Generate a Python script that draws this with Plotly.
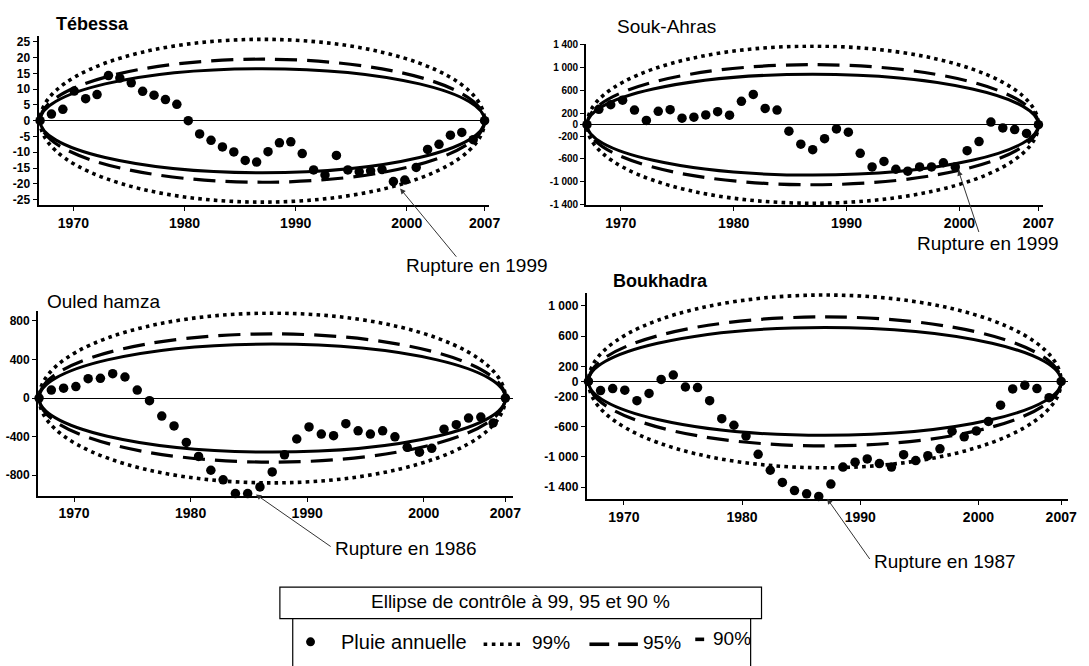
import numpy as np
import plotly.graph_objects as go

W, H = 1089, 666

# ---------------- data ----------------
YEAR_START, YEAR_END = 1967, 2007
X_TICKS = [1970, 1980, 1990, 2000, 2007]

STATIONS = ["Tébessa", "Souk-Ahras", "Ouled hamza", "Boukhadra"]

# cumulative deviations (Buishand), first and last point = 0
tebessa = [0, 2.1, 3.6, 9.4, 7.0, 8.3, 14.3, 13.5, 12.0, 9.3, 8.1, 6.7, 5.2, 0.0,
           -4.2, -6.2, -8.3, -9.9, -12.6, -13.1, -9.8, -7.0, -6.7, -10.4, -15.6,
           -17.2, -11.0, -15.6, -16.2, -15.9, -15.5, -19.3, -18.8, -14.8, -9.1,
           -7.5, -4.6, -3.7, -6.0, 0]
souk_ahras = [0, 270, 350, 430, 257, 74, 234, 263, 114, 131, 171, 229, 166, 411,
              531, 286, 257, -114, -343, -440, -246, -74, -131, -503, -743, -646,
              -783, -817, -743, -743, -669, -743, -457, -297, 46, -57, -86, -154, 0]
ouled_hamza = [0, 82, 102, 119, 201, 204, 252, 218, 82, -27, -187, -289, -460,
               -606, -749, -848, -991, -991, -922, -766, -589, -425, -300, -374,
               -391, -266, -340, -374, -340, -402, -511, -562, -521, -323, -276,
               -208, -197, -259, 0]
boukhadra = [0, -121, -95, -117, -256, -160, 26, 85, -74, -82, -256, -494, -581,
             -725, -966, -1178, -1339, -1447, -1490, -1525, -1361, -1136, -1071,
             -1028, -1089, -1136, -972, -1050, -985, -894, -661, -734, -657, -531,
             -315, -99, -52, -95, -216, 0]

# control ellipse half-heights: 99 %, 95 %, 90 %
ellipse_tebessa = [25.8, 19.5, 16.5]
ellipse_souk_ahras = [1380, 1055, 885]
ellipse_ouled_hamza = [880, 665, 560]
ellipse_boukhadra = [1145, 855, 715]

yticks_tebessa = [-25, -20, -15, -10, -5, 0, 5, 10, 15, 20, 25]
yticks_souk_ahras = [-1400, -1000, -600, -200, 0, 200, 600, 1000, 1400]
yticks_ouled_hamza = [-800, -400, 0, 400, 800]
yticks_boukhadra = [-1400, -1000, -600, -200, 0, 200, 600, 1000]

RUPTURE_TEXT = ["Rupture en 1999", "Rupture en 1999", "Rupture en 1986", "Rupture en 1987"]
RUPTURE_YEAR = [1999.4, 1999.9, 1985.6, 1987.2]
RUPTURE_VAL = [-21.5, -800, -1000, -1555]

LEGEND_TITLE = "Ellipse de contrôle à 99, 95 et 90 %"
LEGEND_ITEMS = ["Pluie annuelle", "99%", "95%", "90%"]

# ---------------- layout (pixels) ----------------
FONT = "Liberation Sans, Arial, sans-serif"
panels = [
    dict(vals=tebessa, ell=ellipse_tebessa, yt=yticks_tebessa, yr=[-26.7, 27.0], yfs=12,
         left=39, v0=40.5, v1=490, right=494, top=31, bottom=203,
         title=(55, 19, True), rt=(408, 264), tail=(462, 256)),
    dict(vals=souk_ahras, ell=ellipse_souk_ahras, yt=yticks_souk_ahras, yr=[-1410, 1410], yfs=10,
         left=592.7, v0=593.5, v1=1050, right=1055, top=40, bottom=203,
         title=(621.7, 21.5, False), rt=(925, 242), tail=(990, 231)),
    dict(vals=ouled_hamza, ell=ellipse_ouled_hamza, yt=yticks_ouled_hamza, yr=[-1011, 899], yfs=12,
         left=38.5, v0=39.5, v1=511, right=519, top=311, bottom=498,
         title=(45, 301.5, False), rt=(337, 552), tail=(335, 550)),
    dict(vals=boukhadra, ell=ellipse_boukhadra, yt=yticks_boukhadra, yr=[-1565, 1177], yfs=12,
         left=593.3, v0=595, v1=1073, right=1080, top=292, bottom=502,
         title=(618.3, 280.5, True), rt=(882, 565), tail=(880, 563)),
]

styles = [dict(width=3.6, dash="3.6px,4.2px"),  # 99 %
          dict(width=3.2, dash="22px,10px"),     # 95 %
          dict(width=3, dash="solid")]           # 90 %

def px(x):
    return x / W

def py(y):
    return 1 - y / H

fig = go.Figure()
layout = {}
annotations = []
shapes = []

for i, p in enumerate(panels):
    sfx = "" if i == 0 else str(i + 1)
    xr, yr = "x" + sfx, "y" + sfx
    s = (p["v1"] - p["v0"]) / (YEAR_END - YEAR_START)
    xrange = [YEAR_START - (p["v0"] - p["left"]) / s, YEAR_END + (p["right"] - p["v1"]) / s]
    xs = np.linspace(YEAR_START, YEAR_END, len(p["vals"]))

    fig.add_trace(go.Scatter(x=xs, y=p["vals"], mode="markers",
                             marker=dict(size=9.5, color="black"),
                             xaxis=xr, yaxis=yr, cliponaxis=False,
                             showlegend=False, hoverinfo="skip"))
    for amp, st in zip(p["ell"], styles):
        shapes.append(dict(type="circle", xref=xr, yref=yr,
                           x0=YEAR_START, x1=YEAR_END, y0=-amp, y1=amp,
                           line=dict(color="black", width=st["width"], dash=st["dash"])))

    layout["xaxis" + sfx] = dict(
        domain=[px(p["left"]), px(p["right"])], range=xrange, anchor=yr,
        showline=True, linecolor="black", linewidth=2, showgrid=False, zeroline=False,
        ticks="outside", ticklen=4, tickwidth=1, tickcolor="black",
        tickvals=X_TICKS, ticktext=[str(t) for t in X_TICKS],
        tickfont=dict(family=FONT, size=14, color="black", weight="bold"))
    layout["yaxis" + sfx] = dict(
        domain=[py(p["bottom"]), py(p["top"])], range=p["yr"], anchor=xr,
        showline=True, linecolor="black", linewidth=2, showgrid=False,
        zeroline=True, zerolinecolor="black", zerolinewidth=1,
        ticks="outside", ticklen=4, tickwidth=1, tickcolor="black",
        tickvals=p["yt"], ticktext=[f"{v:,}".replace(",", " ") for v in p["yt"]],
        tickfont=dict(family=FONT, size=p["yfs"], color="black", weight="bold"))

    tx, ty, bold = p["title"]
    annotations.append(dict(text=STATIONS[i], xref="paper", yref="paper",
                            x=px(tx), y=py(ty), xanchor="left", yanchor="middle",
                            showarrow=False,
                            font=dict(family=FONT, size=18 if bold else 19, color="black",
                                      weight="bold" if bold else "normal")))
    # rupture label and arrow
    rx, ry = p["rt"]
    annotations.append(dict(text=RUPTURE_TEXT[i], xref="paper", yref="paper",
                            x=px(rx), y=py(ry), xanchor="left", yanchor="middle",
                            showarrow=False, font=dict(family=FONT, size=19, color="black")))
    tip_px_x = p["v0"] + (RUPTURE_YEAR[i] - YEAR_START) * s
    ylo, yhi = p["yr"]
    tip_px_y = p["top"] + (yhi - RUPTURE_VAL[i]) / (yhi - ylo) * (p["bottom"] - p["top"])
    annotations.append(dict(text="", xref=xr, yref=yr, x=RUPTURE_YEAR[i], y=RUPTURE_VAL[i],
                            showarrow=True, arrowhead=2, arrowsize=1.1, arrowwidth=1,
                            arrowcolor="#333333",
                            ax=p["tail"][0] - tip_px_x, ay=p["tail"][1] - tip_px_y))

# ---------------- legend ----------------
def rect(x0, y0, x1, y1, w=1.2):
    return dict(type="rect", xref="paper", yref="paper", x0=px(x0), x1=px(x1),
                y0=py(y1), y1=py(y0), line=dict(color="black", width=w),
                fillcolor="white", layer="above")

def seg(x0, x1, y, width, dash="solid"):
    return dict(type="line", xref="paper", yref="paper", x0=px(x0), x1=px(x1),
                y0=py(y), y1=py(y), line=dict(color="black", width=width, dash=dash))

shapes.append(rect(283, 591, 770, 623))
shapes.append(rect(296, 623, 759, 700))
shapes.append(dict(type="circle", xref="paper", yref="paper",
                   x0=px(309.5), x1=px(318.5), y0=py(651), y1=py(642),
                   fillcolor="black", line=dict(color="black", width=0)))
shapes.append(seg(489, 530, 649, 3.6, "3.6px,4.6px"))
shapes.append(seg(596, 616, 649, 3.6))
shapes.append(seg(625, 645, 649, 3.6))
shapes.append(seg(703, 712, 644, 3.6))

annotations.append(dict(text=LEGEND_TITLE, xref="paper", yref="paper", x=px(526.5), y=py(606),
                        xanchor="center", yanchor="middle", showarrow=False,
                        font=dict(family=FONT, size=19, color="black")))
leg_pos = [(343, 647, 20), (536, 647, 19), (648, 647, 19), (719, 643, 19)]
for txt, (lx, ly, fs) in zip(LEGEND_ITEMS, leg_pos):
    annotations.append(dict(text=txt, xref="paper", yref="paper", x=px(lx), y=py(ly),
                            xanchor="left", yanchor="middle", showarrow=False,
                            font=dict(family=FONT, size=fs, color="black")))

fig.update_layout(width=W, height=H, margin=dict(l=0, r=0, t=0, b=0),
                  paper_bgcolor="white", plot_bgcolor="white",
                  showlegend=False, shapes=shapes, annotations=annotations, **layout)
fig.write_html("out.html", config={"responsive": False, "displayModeBar": False},
               post_script="document.body.style.margin='0';document.body.style.padding='0';"
                           "document.documentElement.style.overflow='hidden';")
